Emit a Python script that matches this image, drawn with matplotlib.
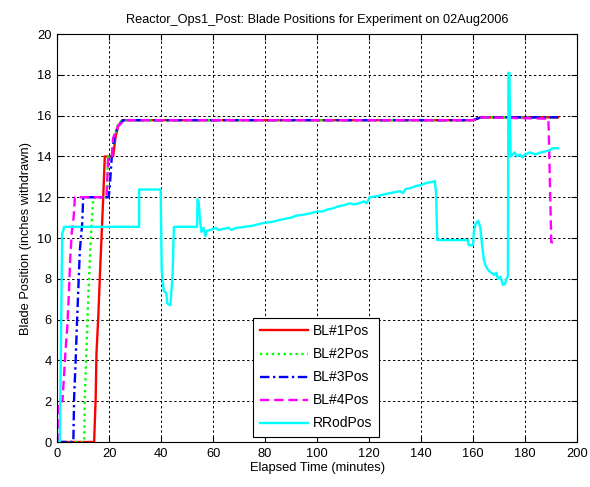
import matplotlib
matplotlib.use("Agg")
import matplotlib.pyplot as plt

plt.rcParams['font.family'] = ['Liberation Sans', 'DejaVu Sans']

title = "Reactor_Ops1_Post: Blade Positions for Experiment on 02Aug2006"
xlabel = "Elapsed Time (minutes)"
ylabel = "Blade Position (inches withdrawn)"

bl1_t = [0, 14.2, 14.8, 15.1, 15.8, 16.4, 17.1, 17.7, 18.3, 21.5, 22.5, 23.5, 25, 160, 163, 192.7]
bl1_v = [0, 0, 2.2, 4.35, 6.15, 8.1, 10.2, 12, 14, 14, 15.0, 15.5, 15.78, 15.78, 15.92, 15.92]

bl2_t = [0, 10.4, 10.6, 11.3, 11.9, 12.6, 13.2, 13.9, 19.0, 19.5, 21, 22, 23.5, 25, 160, 163, 192.7]
bl2_v = [0, 0, 2.2, 4.7, 7.0, 9.1, 10.7, 12, 12, 14, 14, 15, 15.6, 15.78, 15.78, 15.92, 15.92]

bl3_t = [0, 6.2, 6.5, 7.0, 7.5, 8.1, 8.7, 9.6, 10.0, 19.8, 20.2, 21, 22, 23.5, 25.5, 160, 163, 192.7]
bl3_v = [0, 0, 2.2, 3.7, 5.5, 7.45, 9.4, 10.7, 12, 12, 12.5, 14, 15, 15.5, 15.78, 15.78, 15.92, 15.92]

bl4_t = [0, 0.3, 0.4, 2.0, 2.5, 3.2, 3.8, 4.5, 5.0, 5.6, 6.3, 6.8, 19.0, 19.6, 21, 21.5, 23.4, 26,
         160, 163, 189, 190.1, 192.4]
bl4_v = [0, 0, 2, 2, 3, 4.5, 5.5, 7.3, 9, 10.3, 11, 12, 12, 14, 14, 14.9, 15.5, 15.78,
         15.78, 15.92, 15.85, 9.8, 9.7]

rrod_t = [0, 1.0, 1.2, 1.9, 2.7, 31.5, 31.5, 39.8, 40.2, 41.0, 42.0, 42.3, 43.5, 44.0, 44.4, 44.9,
          53.8, 54.0, 54.4, 55.0, 55.5, 56.3, 57.0, 57.5, 59, 61, 62, 64, 66, 67, 69, 72, 75, 78,
          80, 83, 86, 88, 90, 92, 95, 97, 100, 102, 104, 106, 108, 110, 112.6, 114, 116, 118, 119,
          120.3, 123, 126, 128, 130, 132, 133, 134, 136, 138, 140, 142, 144.6, 145.3, 145.8, 146.2,
          158.0, 158.3, 160.0, 160.3, 161.0, 162.0, 162.8, 163.5, 164.2, 165, 166, 167, 168, 169,
          169.5, 170.5, 171.5, 172.3, 172.8, 173.4, 173.6, 174.0, 174.2, 174.5, 176, 177, 178, 179,
          180, 182, 184, 186, 188, 189.5, 190.5, 192.7]
rrod_v = [0, 0, 2.2, 10.2, 10.55, 10.55, 12.38, 12.38, 8.4, 7.4, 7.3, 6.8, 6.7, 7.5, 8.3, 10.55,
          10.55, 11.9, 11.8, 10.8, 10.3, 10.5, 10.1, 10.35, 10.4, 10.5, 10.4, 10.45, 10.5, 10.4, 10.5,
          10.55, 10.6, 10.7, 10.75, 10.8, 10.9, 10.95, 11.0, 11.1, 11.15, 11.2, 11.3, 11.3, 11.4,
          11.45, 11.55, 11.6, 11.7, 11.65, 11.7, 11.8, 11.7, 12.0, 12.05, 12.15, 12.2, 12.25, 12.3,
          12.2, 12.4, 12.45, 12.55, 12.6, 12.7, 12.76, 12.8, 12.2, 9.9, 9.9, 9.65, 9.65, 10.3, 10.7,
          10.85, 10.5, 9.6, 8.9, 8.6, 8.4, 8.3, 8.2, 8.3, 8.0, 8.1, 7.7, 7.75, 8.0, 8.1, 18.1, 18.1,
          15.5, 14.0, 14.2, 14.0, 14.1, 13.95, 14.1, 14.2, 14.1, 14.2, 14.25, 14.3, 14.4, 14.4]

xticks = list(range(0, 201, 20))
yticks = list(range(0, 21, 2))

fig = plt.figure(figsize=(5.9, 4.87), dpi=100)
ax = fig.add_axes([0.097, 0.0924, 0.881, 0.8376])

lw = 1.7
ax.plot(bl1_t, bl1_v, color=(1, 0, 0), lw=lw, ls='-', label='BL#1Pos')
ax.plot(bl2_t, bl2_v, color=(0, 1, 0), lw=lw, ls=(0, (1, 1.5)), label='BL#2Pos')
ax.plot(bl3_t, bl3_v, color=(0, 0, 1), lw=lw, ls=(0, (4, 1.5, 1, 1.5)), label='BL#3Pos')
ax.plot(bl4_t, bl4_v, color=(1, 0, 1), lw=lw, ls=(0, (4, 2)), label='BL#4Pos')
ax.plot(rrod_t, rrod_v, color=(0, 1, 1), lw=lw, ls='-', label='RRodPos')

ax.set_xlim(0, 200)
ax.set_ylim(0, 20)
ax.set_xticks(xticks)
ax.set_yticks(yticks)
ax.grid(True, color='black', ls=(0, (2.5, 2.5)), lw=0.7)
ax.tick_params(direction='in', top=True, right=True, labelsize=9.3, length=4, pad=4)
for s in ax.spines.values():
    s.set_linewidth(0.8)

ax.set_title(title, fontsize=9.2, pad=8)
ax.set_xlabel(xlabel, fontsize=9.3, labelpad=2)
ax.set_ylabel(ylabel, fontsize=9.3, labelpad=4)

leg = ax.legend(loc='lower center', bbox_to_anchor=(0.498, 0.013), borderaxespad=0,
                prop={'size': 10},
                fancybox=False, framealpha=1, edgecolor='black', handlelength=3.45,
                borderpad=0.45, labelspacing=0.65, handletextpad=0.4)
leg.get_frame().set_linewidth(0.8)

fig.savefig('out.png', dpi=100, facecolor='white')
